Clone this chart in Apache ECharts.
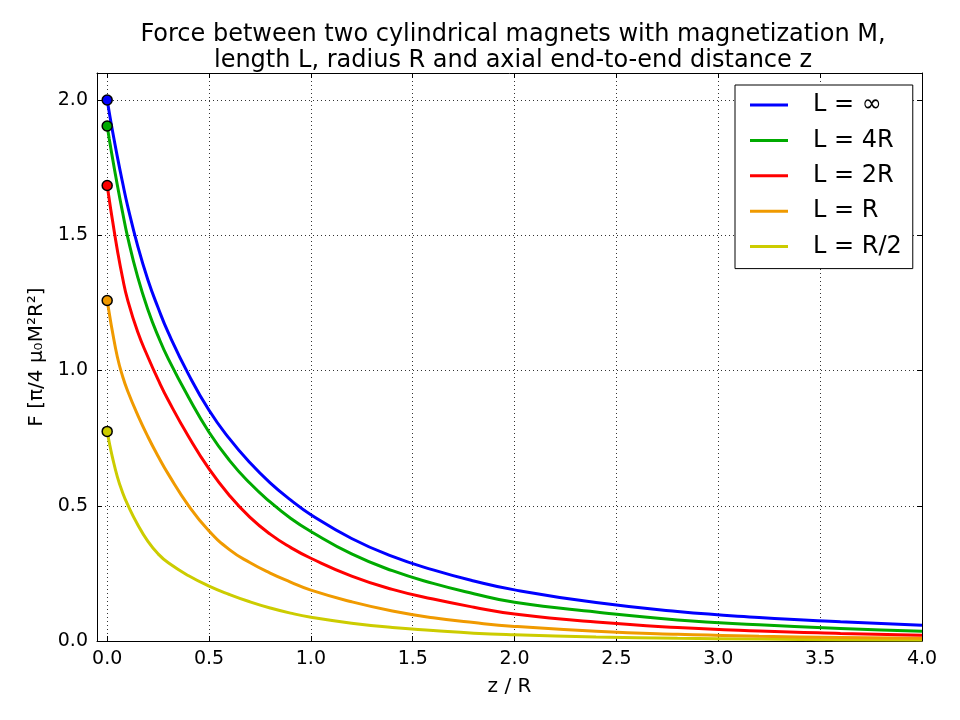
<!DOCTYPE html>
<html>
<head>
<meta charset="utf-8">
<script src="https://cdn.jsdelivr.net/npm/echarts@6/dist/echarts.min.js"></script>
<style>
  html, body { margin: 0; padding: 0; background: #fff; }
  #chart { width: 960px; height: 720px; }
</style>
</head>
<body>
<div id="chart"></div>
<script>
// z / R sample positions
var zValues = [0, 0.01, 0.025, 0.05, 0.075, 0.1, 0.15, 0.2, 0.25, 0.3, 0.4, 0.5, 0.6, 0.7, 0.8, 0.9, 1.0, 1.2, 1.4, 1.6, 1.8, 2.0, 2.4, 2.8, 3.2, 3.6, 4.0];

// force for each magnet length
var forceLinf = [2.0, 1.955, 1.89, 1.79, 1.697, 1.61, 1.46, 1.335, 1.232, 1.14, 0.985, 0.853, 0.748, 0.66, 0.585, 0.522, 0.467, 0.379, 0.313, 0.263, 0.222, 0.189, 0.142, 0.109, 0.087, 0.071, 0.058];
var forceL4R = [1.904, 1.857, 1.79, 1.685, 1.587, 1.495, 1.345, 1.225, 1.127, 1.043, 0.9, 0.772, 0.668, 0.584, 0.514, 0.454, 0.405, 0.322, 0.26, 0.213, 0.175, 0.143, 0.107, 0.078, 0.06, 0.046, 0.036];
var forceL2R = [1.684, 1.633, 1.56, 1.445, 1.345, 1.262, 1.142, 1.05, 0.966, 0.89, 0.755, 0.636, 0.538, 0.458, 0.395, 0.346, 0.306, 0.24, 0.191, 0.155, 0.125, 0.1, 0.07, 0.05, 0.037, 0.028, 0.021];
var forceLR = [1.259, 1.213, 1.147, 1.05, 0.98, 0.925, 0.835, 0.755, 0.683, 0.617, 0.5, 0.407, 0.338, 0.29, 0.251, 0.218, 0.188, 0.145, 0.111, 0.086, 0.068, 0.054, 0.036, 0.025, 0.018, 0.013, 0.01];
var forceLR2 = [0.775, 0.735, 0.682, 0.607, 0.55, 0.505, 0.43, 0.368, 0.322, 0.289, 0.241, 0.203, 0.172, 0.145, 0.122, 0.103, 0.088, 0.066, 0.05, 0.039, 0.029, 0.023, 0.015, 0.01, 0.007, 0.005, 0.004];

var seriesNames = ['L = ∞', 'L = 4R', 'L = 2R', 'L = R', 'L = R/2'];
var seriesColors = ['#0000ff', '#00aa00', '#ff0000', '#f09a00', '#cccc00'];
var allForces = [forceLinf, forceL4R, forceL2R, forceLR, forceLR2];

// tick positions
var xTicks = [0, 0.5, 1.0, 1.5, 2.0, 2.5, 3.0, 3.5, 4.0];
var yTicks = [0, 0.5, 1.0, 1.5, 2.0];

var FONT = 'DejaVu Sans';

var chart = echarts.init(document.getElementById('chart'), null, { renderer: 'canvas' });

var series = [];
var startPoints = [];
for (var i = 0; i < allForces.length; i++) {
  var pts = [];
  for (var j = 0; j < zValues.length; j++) {
    pts.push([zValues[j], allForces[i][j]]);
  }
  series.push({
    name: seriesNames[i],
    type: 'line',
    data: pts,
    symbol: 'none',
    smooth: 0.5,
    lineStyle: { width: 3, color: seriesColors[i] },
    itemStyle: { color: seriesColors[i] },
    z: 2 + (allForces.length - i)
  });
  startPoints.push({
    value: [zValues[0], allForces[i][0]],
    itemStyle: { color: seriesColors[i] }
  });
}
// circle marks at z = 0
series.push({
  type: 'scatter',
  data: startPoints,
  symbol: 'circle',
  symbolSize: 10,
  itemStyle: { borderColor: '#000', borderWidth: 1.5, opacity: 1 },
  z: 20,
  silent: true
});

var dotted = { color: '#333', width: 1, type: [1, 3] };
var axisLine = { show: true, onZero: false, lineStyle: { color: '#000', width: 1 } };
function tickStyle(vals) {
  return { show: true, inside: true, length: 5, customValues: vals, lineStyle: { color: '#000', width: 1 } };
}
function fmt(v) { return v.toFixed(1); }

var option = {
  animation: false,
  backgroundColor: '#fff',
  title: {
    text: 'Force between two cylindrical magnets with magnetization M,\nlength L, radius R and axial end-to-end distance z',
    left: 508,
    top: 17,
    textAlign: 'center',
    textStyle: { fontFamily: FONT, fontSize: 24, fontWeight: 'normal', color: '#000', lineHeight: 26 }
  },
  grid: { left: 97, top: 73, width: 825, height: 568, show: false },
  legend: {
    data: seriesNames,
    orient: 'vertical',
    left: 735,
    top: 85,
    padding: [8, 11, 10, 15],
    icon: 'path://M0,0 L38,0 L38,3 L0,3 Z',
    itemWidth: 38,
    itemHeight: 3,
    itemGap: 11.4,
    borderColor: '#000',
    borderWidth: 1,
    borderRadius: 0,
    backgroundColor: '#fff',
    textStyle: { fontFamily: FONT, fontSize: 24, color: '#000', lineHeight: 24, padding: [0, 0, 0, 20] }
  },
  xAxis: [{
    type: 'value',
    min: -0.05,
    max: 4.0,
    name: 'z / R',
    nameLocation: 'middle',
    nameGap: 36,
    nameTextStyle: { fontFamily: FONT, fontSize: 20, color: '#000' },
    axisLine: axisLine,
    axisTick: tickStyle(xTicks),
    splitLine: { show: true, customValues: xTicks, lineStyle: dotted },
    axisLabel: { fontFamily: FONT, fontSize: 19, color: '#000', margin: 9, customValues: xTicks, formatter: fmt }
  }, {
    // top frame with ticks
    type: 'value',
    position: 'top',
    min: -0.05,
    max: 4.0,
    axisLine: axisLine,
    axisTick: tickStyle(xTicks),
    splitLine: { show: false },
    axisLabel: { show: false, customValues: xTicks }
  }],
  yAxis: [{
    type: 'value',
    min: 0,
    max: 2.1,
    interval: 0.5,
    name: 'F [π/4 μ₀M²R²]',
    nameLocation: 'middle',
    nameGap: 45,
    nameRotate: 90,
    nameTextStyle: { fontFamily: FONT, fontSize: 20, color: '#000' },
    axisLine: axisLine,
    axisTick: tickStyle(yTicks),
    splitLine: { show: true, customValues: yTicks, lineStyle: dotted },
    axisLabel: { fontFamily: FONT, fontSize: 19, color: '#000', margin: 9, customValues: yTicks, formatter: fmt }
  }, {
    // right frame with ticks
    type: 'value',
    position: 'right',
    min: 0,
    max: 2.1,
    interval: 0.5,
    axisLine: axisLine,
    axisTick: tickStyle(yTicks),
    splitLine: { show: false },
    axisLabel: { show: false, customValues: yTicks }
  }],
  series: series
};

chart.setOption(option);
</script>
</body>
</html>
